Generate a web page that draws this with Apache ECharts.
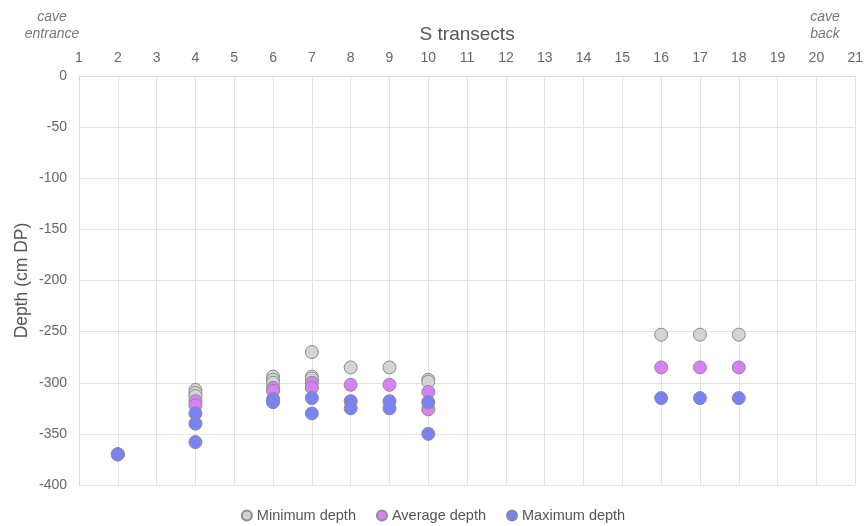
<!DOCTYPE html>
<html>
<head>
<meta charset="utf-8">
<script src="https://cdn.jsdelivr.net/npm/echarts@6/dist/echarts.min.js"></script>
<style>html,body{margin:0;padding:0;background:#fff;}#c{width:866px;height:526px;}</style>
</head>
<body>
<div id="c"></div>
<script>
// Transect numbers (x) and depths (y, cm DP) for each series
const minTransect = [2, 4, 4, 4, 6, 6, 6, 7, 7, 7, 8, 9, 10, 10, 16, 17, 18];
const minDepth    = [-370, -307, -310, -313, -294, -297, -300, -270, -294, -296, -285, -285, -297, -299, -253, -253, -253];

const avgTransect = [2, 4, 4, 6, 6, 7, 7, 8, 9, 10, 10, 16, 17, 18];
const avgDepth    = [-370, -318, -322, -305, -308, -300, -305, -302, -302, -309, -326, -285, -285, -285];

const maxTransect = [2, 4, 4, 4, 6, 6, 7, 7, 8, 8, 9, 9, 10, 10, 16, 17, 18];
const maxDepth    = [-370, -330, -340, -358, -316, -319, -315, -330, -318, -325, -318, -325, -319, -350, -315, -315, -315];

const seriesNames = ['Minimum depth', 'Average depth', 'Maximum depth'];
const seriesColors = ['#d4d4d4', '#d881f6', '#7a82f8'];

const xTitle = 'S transects';
const yTitle = 'Depth (cm DP)';

function pairs(xs, ys) { return xs.map((x, i) => [x, ys[i]]); }

const chart = echarts.init(document.getElementById('c'));
const font = 'Liberation Sans, Arial, sans-serif';
const lblColor = '#666';

const mk = (name, color, data) => ({
  name, type: 'scatter', data, symbol: 'circle', symbolSize: 13,
  itemStyle: { color, borderColor: '#8c8c8c', borderWidth: 1, opacity: 1 }
});

chart.setOption({
  animation: false,
  textStyle: { fontFamily: font },
  grid: { left: 79, right: 8, top: 76, bottom: 41, containLabel: false },
  xAxis: {
    type: 'value', position: 'top', min: 1, max: 21, interval: 1,
    name: xTitle, nameLocation: 'middle', nameGap: 32,
    nameTextStyle: { fontSize: 19, color: '#555', fontFamily: font },
    axisLine: { show: true, lineStyle: { color: '#ddd' } },
    axisTick: { show: false },
    axisLabel: { color: lblColor, fontSize: 14, margin: 11, fontFamily: font },
    splitLine: { show: true, lineStyle: { color: '#e2e2e2', width: 1 } }
  },
  yAxis: {
    type: 'value', min: -400, max: 0, interval: 50,
    name: yTitle, nameLocation: 'middle', nameGap: 48, nameRotate: 90,
    nameMoveOverlap: false,
    nameTextStyle: { fontSize: 17.5, color: '#555', fontFamily: font },
    axisLine: { show: true, lineStyle: { color: '#ddd' } },
    axisTick: { show: false },
    axisLabel: { color: lblColor, fontSize: 14, margin: 12, fontFamily: font },
    splitLine: { show: true, lineStyle: { color: '#e2e2e2', width: 1 } }
  },
  legend: {
    top: 503, left: 'center', itemGap: 20, itemWidth: 10, itemHeight: 10,
    icon: 'circle',
    textStyle: { color: '#555', fontSize: 14.5, fontFamily: font },
    data: seriesNames
  },
  graphic: [
    { type: 'text', x: 52, y: 9, style: { text: 'cave\nentrance', fill: '#777', font: 'italic 14px ' + font, align: 'center', lineHeight: 17 } },
    { type: 'text', x: 825, y: 9, style: { text: 'cave\nback', fill: '#777', font: 'italic 14px ' + font, align: 'center', lineHeight: 17 } }
  ],
  series: [
    mk(seriesNames[0], seriesColors[0], pairs(minTransect, minDepth)),
    mk(seriesNames[1], seriesColors[1], pairs(avgTransect, avgDepth)),
    mk(seriesNames[2], seriesColors[2], pairs(maxTransect, maxDepth))
  ]
});
</script>
</body>
</html>
